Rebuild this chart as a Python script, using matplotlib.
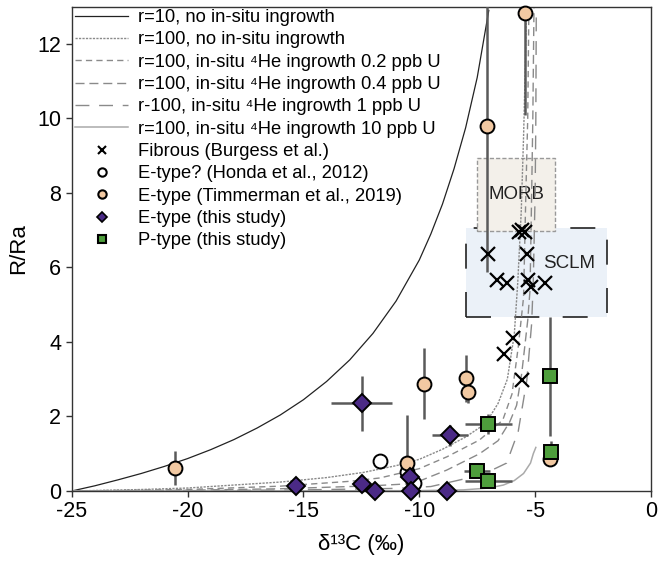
import matplotlib
matplotlib.use("Agg")
import matplotlib.pyplot as plt
from matplotlib.lines import Line2D
from matplotlib.patches import Rectangle

plt.rcParams['font.family'] = ['Liberation Sans', 'DejaVu Sans']
plt.rcParams['axes.unicode_minus'] = False

r10_x = [-25, -24, -23, -22, -21, -20, -19, -18, -17, -16, -15, -14, -13, -12, -11, -10, -9.5, -9, -8.5, -8, -7.5, -7.0]
r10_y = [0, 0.14, 0.30, 0.47, 0.66, 0.87, 1.11, 1.38, 1.69, 2.04, 2.45, 2.94, 3.52, 4.23, 5.1, 6.2, 6.9, 7.7, 8.65, 9.75, 11.1, 12.9]

r100_x = [-25, -22, -20, -18, -16, -14, -12.4, -11, -10, -9, -8, -7.4, -7, -6.6, -6.2, -5.9, -5.75, -5.6, -5.5, -5.42, -5.38]
r100_y = [0, 0.04, 0.08, 0.16, 0.24, 0.36, 0.5, 0.68, 0.85, 1.12, 1.45, 1.7, 1.95, 2.35, 3.0, 4.2, 5.6, 7.5, 9.5, 11.5, 13.0]

g02_x = [-25, -20, -16, -13, -11.7, -10, -8.8, -7.4, -6.4, -6.0, -5.73, -5.5, -5.4, -5.32, -5.27]
g02_y = [0, 0.04, 0.13, 0.26, 0.35, 0.6, 0.92, 1.37, 1.9, 2.6, 3.86, 5.2, 8.0, 10.0, 13.0]

g04_x = [-25, -20, -16, -12, -10.26, -8.82, -7.4, -6.6, -6.1, -5.8, -5.58, -5.32, -5.22, -5.15, -5.1, -5.05]
g04_y = [0, 0.02, 0.06, 0.14, 0.2, 0.56, 1.0, 1.35, 1.85, 2.3, 3.15, 4.58, 5.4, 8.0, 10.0, 13.0]

g1_x = [-25, -20, -15, -11, -9.5, -7.67, -6.8, -6.23, -5.73, -5.36, -5.15, -5.08, -5.0, -4.97, -4.95]
g1_y = [0, 0.01, 0.03, 0.07, 0.12, 0.38, 0.58, 0.75, 1.6, 2.97, 4.5, 5.65, 8.0, 10.0, 13.0]

g10_x = [-25, -15, -10, -8.1, -7.0, -6.37, -5.9, -5.5, -5.2, -5.08, -4.97]
g10_y = [0, 0.0, 0.01, 0.03, 0.08, 0.16, 0.28, 0.47, 0.75, 1.0, 1.17]

# ---- data ----
fib_x = [-7.02, -5.7, -5.55, -5.45, -5.37, -6.66, -6.23, -5.30, -5.16, -4.58, -5.94, -6.33, -5.55]
fib_y = [6.36, 6.95, 7.0, 6.95, 6.36, 5.67, 5.57, 5.67, 5.47, 5.57, 4.11, 3.69, 2.97]

honda_x = [-11.7, -10.55, -10.24]
honda_y = [0.8, 0.52, 0.22]

tim_x = [-20.53, -10.53, -9.81, -7.99, -7.88, -7.09, -5.44, -4.36]
tim_y = [0.62, 0.74, 2.88, 3.02, 2.66, 9.8, 12.83, 0.87]
tim_yerr = [0.45, 1.3, 0.95, 0.62, 0.31, 3.93, 2.73, 0.1]

etype_x = [-12.49, -8.67, -10.4, -15.33, -12.49, -11.93, -10.34, -8.81]
etype_y = [2.36, 1.49, 0.38, 0.13, 0.18, 0.0, 0.0, 0.0]
etype_xerr = [1.33, 0.79, 0.0, 0.0, 0.0, 0.0, 0.0, 0.45]
etype_yerr = [0.74, 0.27, 0.0, 0.0, 0.0, 0.0, 0.0, 0.0]

ptype_x = [-4.34, -4.32, -7.02, -7.5, -7.02]
ptype_y = [3.08, 1.05, 1.81, 0.54, 0.27]
ptype_xerr = [0.05, 0.05, 1.0, 0.55, 1.0]
ptype_yerr = [1.6, 0.3, 0.27, 0.05, 0.05]

morb_box = [-7.5, -4.15, 6.97, 8.95]
sclm_box = [-8.0, -1.9, 4.68, 7.05]

labels = ["r=10, no in-situ ingrowth",
          "r=100, no in-situ ingrowth",
          "r=100, in-situ \u2074He ingrowth 0.2 ppb U",
          "r=100, in-situ \u2074He ingrowth 0.4 ppb U",
          "r-100, in-situ \u2074He ingrowth 1 ppb U",
          "r=100, in-situ \u2074He ingrowth 10 ppb U",
          "Fibrous (Burgess et al.)",
          "E-type? (Honda et al., 2012)",
          "E-type (Timmerman et al., 2019)",
          "E-type (this study)",
          "P-type (this study)"]

c_tan = '#F2C9A2'
c_pur = '#4B2A86'
c_grn = '#4E9E3C'
c_err = '#5a5a5a'
c_curve = '#8a8a8a'

fig = plt.figure(figsize=(6.58, 5.62), dpi=100)
ax = fig.add_axes([71.7/658, 71/562, (651-71.7)/658, (491-6.7)/562])

# boxes
ax.add_patch(Rectangle((sclm_box[0], sclm_box[2]), sclm_box[1]-sclm_box[0], sclm_box[3]-sclm_box[2],
                       facecolor='#EBF1F8', edgecolor='#222222', lw=1.2, linestyle=(0, (15, 14)), zorder=1))
ax.add_patch(Rectangle((morb_box[0], morb_box[2]), morb_box[1]-morb_box[0], morb_box[3]-morb_box[2],
                       facecolor='#F3F0EA', edgecolor='#999999', lw=1.0, linestyle=(0, (3, 1.5)), zorder=1.1))
ax.text((morb_box[0]+morb_box[1])/2, (morb_box[2]+morb_box[3])/2, "MORB", fontsize=13.5,
        ha='center', va='center', color='#222222', zorder=1.2)
ax.text(-3.55, 6.11, "SCLM", fontsize=13.5, ha='center', va='center', color='#222222', zorder=1.2)

# curves
l1, = ax.plot(r10_x, r10_y, color='#222222', lw=0.9, zorder=2)
l2, = ax.plot(r100_x, r100_y, color=c_curve, lw=1.0, linestyle=(0, (1.6, 0.9)), zorder=2)
l3, = ax.plot(g02_x, g02_y, color=c_curve, lw=1.0, linestyle=(0, (4.5, 3)), zorder=2)
l4, = ax.plot(g04_x, g04_y, color=c_curve, lw=1.0, linestyle=(0, (6.5, 3.5)), zorder=2)
l5, = ax.plot(g1_x, g1_y, color=c_curve, lw=1.0, linestyle=(0, (10, 7)), zorder=2)
l6, = ax.plot(g10_x, g10_y, color='#aaaaaa', lw=1.1, zorder=2)

# error bars
ax.errorbar(tim_x, tim_y, yerr=tim_yerr, fmt='none', ecolor=c_err, elinewidth=1.8, capsize=0, zorder=3)
ax.errorbar(etype_x, etype_y, xerr=etype_xerr, yerr=etype_yerr, fmt='none', ecolor=c_err, elinewidth=1.8, capsize=0, zorder=3)
ax.errorbar(ptype_x, ptype_y, xerr=ptype_xerr, yerr=ptype_yerr, fmt='none', ecolor=c_err, elinewidth=1.8, capsize=0, zorder=3)

# markers
ax.plot(fib_x, fib_y, 'x', color='black', ms=10, mew=1.6, zorder=4, clip_on=False)
ax.plot(honda_x, honda_y, 'o', mfc='white', mec='black', ms=10, mew=1.4, zorder=4, clip_on=False)
ax.plot(tim_x, tim_y, 'o', mfc=c_tan, mec='black', ms=10, mew=1.4, zorder=4.1, clip_on=False)
ax.plot(etype_x, etype_y, 'D', mfc=c_pur, mec='black', ms=9, mew=1.4, zorder=4.2, clip_on=False)
ax.plot(ptype_x, ptype_y, 's', mfc=c_grn, mec='black', ms=10, mew=1.4, zorder=4.3, clip_on=False)

ax.set_xlim(-25, 0)
ax.set_ylim(0, 13)
ax.set_xticks([-25, -20, -15, -10, -5, 0])
ax.set_yticks([0, 2, 4, 6, 8, 10, 12])
ax.tick_params(direction='out', length=4, width=1, labelsize=15.5, color='#333333')
for s in ax.spines.values():
    s.set_linewidth(1.0)
    s.set_color('#333333')

ax.set_xlabel("\u03b4\u00b9\u00b3C (\u2030)", fontsize=16, labelpad=8)
ax.set_ylabel("R/Ra", fontsize=16, labelpad=6)

h_fib = Line2D([], [], marker='x', color='black', ls='none', ms=6, mew=1.5)
h_hon = Line2D([], [], marker='o', mfc='white', mec='black', ls='none', ms=6, mew=1.5)
h_tim = Line2D([], [], marker='o', mfc=c_tan, mec='black', ls='none', ms=6, mew=1.5)
h_ety = Line2D([], [], marker='D', mfc=c_pur, mec='black', ls='none', ms=5, mew=1.2)
h_pty = Line2D([], [], marker='s', mfc=c_grn, mec='black', ls='none', ms=6, mew=1.5)

leg = ax.legend([l1, l2, l3, l4, l5, l6, h_fib, h_hon, h_tim, h_ety, h_pty], labels,
                loc='upper left', bbox_to_anchor=(0.006, 0.995), frameon=False, fontsize=13.2,
                handlelength=2.9, handletextpad=0.5, labelspacing=0.29, borderpad=0, borderaxespad=0)
leg.set_zorder(5)

fig.savefig("out.png", dpi=100)
